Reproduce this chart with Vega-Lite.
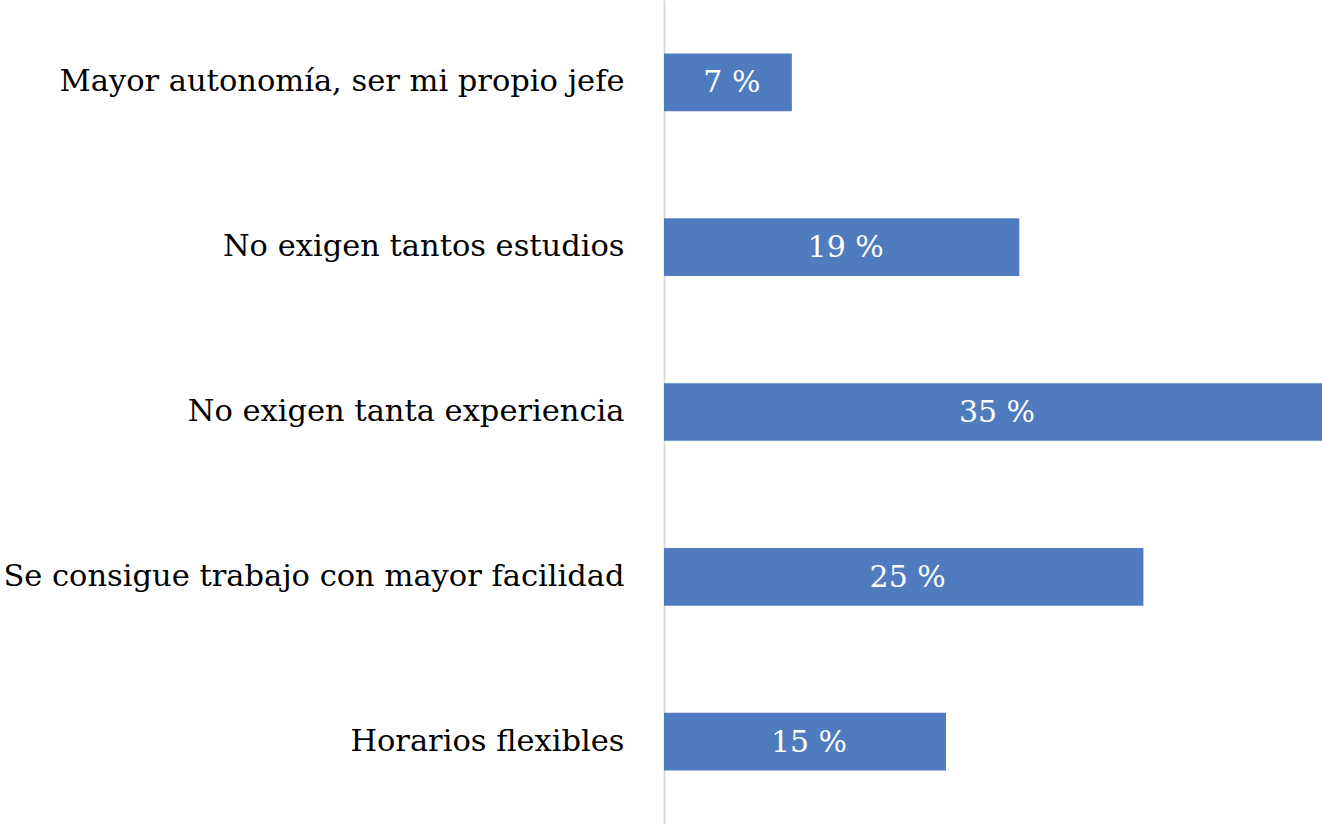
{
  "$schema": "https://vega.github.io/schema/vega-lite/v6.json",
  "autosize": "none",
  "width": 658,
  "height": 824,
  "padding": {"left": 664, "top": 0, "right": 0, "bottom": 0},
  "background": "white",
  "data": {"values": [
    {"cat": "Mayor autonomía, ser mi propio jefe", "value": 6.8, "label": "7 %"},
    {"cat": "No exigen tantos estudios", "value": 18.9, "label": "19 %"},
    {"cat": "No exigen tanta experiencia ", "value": 35, "label": "35 %"},
    {"cat": "Se consigue trabajo con mayor facilidad", "value": 25.5, "label": "25 %"},
    {"cat": "Horarios flexibles", "value": 15, "label": "15 %"}
  ]},
  "config": {"view": {"stroke": null}},
  "encoding": {
    "y": {"field": "cat", "type": "nominal", "sort": null,
      "scale": {"paddingInner": 0.65, "paddingOuter": 0.325},
      "axis": {"title": null, "ticks": false, "domainColor": "#d9d9d9", "domainWidth": 2,
        "labelFont": "DejaVu Serif", "labelFontSize": 30.5, "labelColor": "black",
        "labelPadding": 40, "labelLimit": 0, "grid": false}}
  },
  "layer": [
    {"mark": {"type": "bar", "color": "#4f7bbf"},
     "encoding": {"x": {"field": "value", "type": "quantitative", "scale": {"domain": [0, 35], "nice": false}, "axis": null}}},
    {"mark": {"type": "text", "color": "white", "font": "DejaVu Serif", "fontSize": 30, "baseline": "middle", "align": "center", "dx": 4, "dy": 1},
     "encoding": {"x": {"field": "value", "type": "quantitative", "scale": {"domain": [0, 70], "nice": false}, "axis": null},
       "text": {"field": "label"}}}
  ],
  "resolve": {"scale": {"x": "independent"}}
}
